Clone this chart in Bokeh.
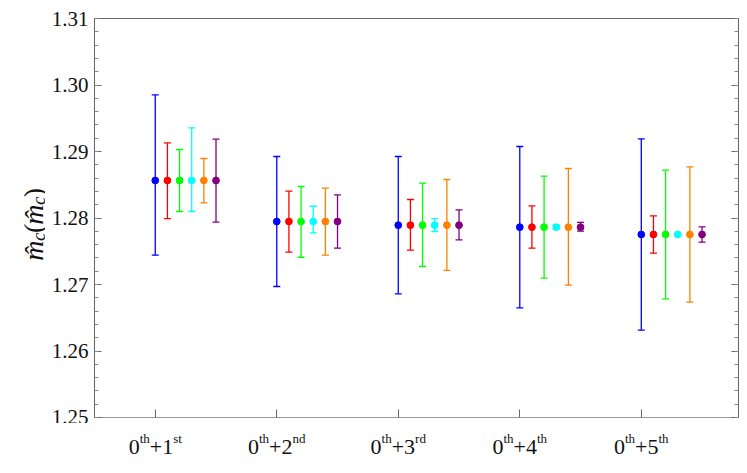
import math
from bokeh.plotting import figure
from bokeh.layouts import column, row
from bokeh.models import (Range1d, LinearAxis, SingleIntervalTicker, FixedTicker,
                          NumeralTickFormatter, ColumnDataSource)
from bokeh.core.properties import value
from bokeh.embed import file_html
from bokeh.resources import INLINE

# ---- data ----
groups = [1, 2, 3, 4, 5]
group_labels_sup = ["st", "nd", "rd", "th", "th"]
group_labels_num = ["1", "2", "3", "4", "5"]
series_names = ["blue", "red", "green", "cyan", "orange", "purple"]
series_colors = ["#0000ff", "#ff0000", "#00ff00", "#00ffff", "#ff8000", "#800080"]
series_offsets = [0.0, 0.1, 0.2, 0.3, 0.4, 0.5]

central = [1.28564, 1.27947, 1.27892, 1.27862, 1.27752]

upper_blue = [1.29851, 1.28925, 1.28925, 1.29075, 1.29190]
lower_blue = [1.27441, 1.26970, 1.26859, 1.26648, 1.26313]
upper_red = [1.29129, 1.28403, 1.28278, 1.28182, 1.28032]
lower_red = [1.27992, 1.27486, 1.27516, 1.27546, 1.27471]
upper_green = [1.29030, 1.28474, 1.28523, 1.28629, 1.28719]
lower_green = [1.28098, 1.27410, 1.27271, 1.27095, 1.26784]
upper_cyan = [1.29355, 1.28177, 1.27992, 1.27895, 1.27755]
lower_cyan = [1.28098, 1.27776, 1.27797, 1.27830, 1.27749]
upper_orange = [1.28895, 1.28448, 1.28579, 1.28744, 1.28768]
lower_orange = [1.28227, 1.27441, 1.27211, 1.26990, 1.26734]
upper_purple = [1.29185, 1.28347, 1.28122, 1.27933, 1.27866]
lower_purple = [1.27937, 1.27546, 1.27671, 1.27802, 1.27636]

uppers = [upper_blue, upper_red, upper_green, upper_cyan, upper_orange, upper_purple]
lowers = [lower_blue, lower_red, lower_green, lower_cyan, lower_orange, lower_purple]

y_ticks_interval = 0.01

# ---- layout geometry (pixels) ----
W, H = 747, 473
FL, FR, FT, FB = 94, 738, 18, 417      # frame edges on the page
LW = 45                                # width of the y-label strip
MAIN_H = FB + 6                        # main figure height
BOT_H = H - MAIN_H                     # x-tick-label strip height
font = "Liberation Serif"
frame_col = "#666666"

x_rng = Range1d(0.5, 5.8)

# ---- main figure ----
p = figure(width=W - LW, height=MAIN_H, output_backend="svg", toolbar_location=None,
           x_range=x_rng, y_range=Range1d(1.25, 1.31),
           min_border_left=FL - LW, min_border_right=W - FR, min_border_top=FT,
           min_border_bottom=MAIN_H - FB, x_axis_type=None, y_axis_type=None)
p.background_fill_color = "white"
p.border_fill_color = "white"
p.grid.visible = False
p.outline_line_color = frame_col
p.outline_line_width = 1

yl = LinearAxis(ticker=SingleIntervalTicker(interval=y_ticks_interval, num_minor_ticks=5),
                formatter=NumeralTickFormatter(format="0.00"))
yl.major_tick_in = 7
yl.major_tick_out = 0
yl.minor_tick_in = 4
yl.minor_tick_out = 0
yl.axis_line_color = frame_col
yl.major_tick_line_color = frame_col
yl.minor_tick_line_color = "#888888"
yl.major_label_text_font = font
yl.major_label_text_font_size = "21px"
yl.major_label_text_color = "#111111"
yl.major_label_standoff = 6
p.add_layout(yl, "left")

yr = LinearAxis(ticker=SingleIntervalTicker(interval=y_ticks_interval, num_minor_ticks=5))
yr.major_tick_in = 7
yr.major_tick_out = 0
yr.minor_tick_in = 4
yr.minor_tick_out = 0
yr.axis_line_color = frame_col
yr.major_tick_line_color = frame_col
yr.minor_tick_line_color = "#888888"
yr.major_label_text_color = None
yr.major_label_text_font_size = "1px"
yr.major_label_standoff = 0
p.add_layout(yr, "right")

xb = LinearAxis(ticker=FixedTicker(ticks=groups, minor_ticks=[]))
xb.major_tick_in = 8
xb.major_tick_out = 0
xb.axis_line_color = "#999999"
xb.major_tick_line_color = frame_col
xb.major_label_text_color = None
xb.major_label_text_font_size = "1px"
xb.major_label_standoff = 0
p.add_layout(xb, "below")

for name, col, off, up, lo in zip(series_names, series_colors, series_offsets, uppers, lowers):
    xs = [g + off for g in groups]
    src = ColumnDataSource(dict(x=xs, y=central, up=up, lo=lo))
    p.segment(x0="x", y0="lo", x1="x", y1="up", source=src, line_color=col, line_width=1.3)
    p.scatter(x="x", y="up", source=src, marker="dash", size=7, line_color=col, line_width=1.3)
    p.scatter(x="x", y="lo", source=src, marker="dash", size=7, line_color=col, line_width=1.3)
    p.scatter(x="x", y="y", source=src, marker="circle", size=6.8, fill_color=col, line_color=col)

# ---- y-label strip ----
pl = figure(width=LW, height=MAIN_H, output_backend="svg", toolbar_location=None,
            x_range=Range1d(0, LW), y_range=Range1d(0, MAIN_H),
            min_border=0, x_axis_type=None, y_axis_type=None)
pl.grid.visible = False
pl.outline_line_color = None
pl.background_fill_color = "white"
pl.border_fill_color = "white"

lab_fs = 28
sub_fs = 19
hat_m = "m\u0302"
parts = [(hat_m, lab_fs, "italic", 0, 0.722 * lab_fs),
         ("c", sub_fs, "italic", 5, 0.444 * sub_fs),
         ("(", lab_fs, "normal", 0, 0.333 * lab_fs),
         (hat_m, lab_fs, "italic", 0, 0.722 * lab_fs),
         ("c", sub_fs, "italic", 5, 0.444 * sub_fs),
         (")", lab_fs, "normal", 0, 0.333 * lab_fs)]
total_len = sum(pp[4] for pp in parts)
center_from_bottom = MAIN_H - (FT + FB) / 2
cum = center_from_bottom - total_len / 2
for txt, fs, style, drop, w in parts:
    cum += w
    pl.text(x=[33 + drop], y=[cum], text=[txt], angle=math.pi / 2,
            text_font=value(font), text_font_size=value(f"{fs}px"),
            text_font_style=style, text_align="right", text_baseline="alphabetic",
            text_color="#111111")

# ---- x-tick-label strip ----
pb = figure(width=W, height=BOT_H, output_backend="svg", toolbar_location=None,
            x_range=x_rng, y_range=Range1d(0, BOT_H),
            min_border_left=FL, min_border_right=W - FR, min_border_top=0,
            min_border_bottom=0, x_axis_type=None, y_axis_type=None)
pb.grid.visible = False
pb.outline_line_color = None
pb.background_fill_color = "white"
pb.border_fill_color = "white"

main_fs = 22
sup_fs = 13
baseline = H - 446.5          # from the bottom of the page
rise = 9
sup_w = {"st": 0.667, "nd": 1.0, "rd": 0.833, "th": 0.778}
mx, my, mt, mo = [], [], [], []
sx, sy, st, so = [], [], [], []
for g, num, sup in zip(groups, group_labels_num, group_labels_sup):
    w0 = 0.5 * main_fs
    wth = 0.778 * sup_fs
    wplus = (0.564 + 0.5) * main_fs
    wsup = sup_w[sup] * sup_fs
    total = w0 + wth + wplus + wsup
    x0 = -total / 2
    mx += [g, g]; my += [baseline, baseline]; mt += ["0", "+" + num]
    mo += [x0, x0 + w0 + wth]
    sx += [g, g]; sy += [baseline + rise, baseline + rise]; st += ["th", sup]
    so += [x0 + w0, x0 + w0 + wth + wplus]

pb.text(x="x", y="y", text="t", x_offset="o",
        source=ColumnDataSource(dict(x=mx, y=my, t=mt, o=mo)),
        text_font=value(font), text_font_size=value(f"{main_fs}px"),
        text_align="left", text_baseline="alphabetic", text_color="#111111")
pb.text(x="x", y="y", text="t", x_offset="o",
        source=ColumnDataSource(dict(x=sx, y=sy, t=st, o=so)),
        text_font=value(font), text_font_size=value(f"{sup_fs}px"),
        text_align="left", text_baseline="alphabetic", text_color="#111111")

layout = column(row(pl, p, spacing=0), pb, spacing=0)
open("out.html", "w").write(file_html(layout, INLINE))
